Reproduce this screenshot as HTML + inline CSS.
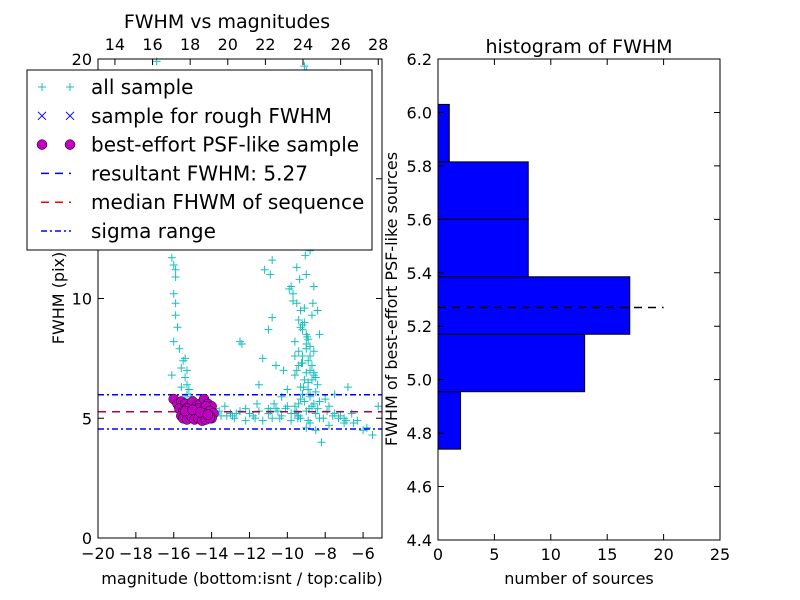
<!DOCTYPE html>
<html><head><meta charset="utf-8"><style>
body{margin:0;background:#fff;}
svg{display:block;font-family:"DejaVu Sans","Liberation Sans",sans-serif;}
</style></head><body>
<svg id="c" width="800" height="600"></svg>
<script>
const allMag=[-16.9,-16.1,-16,-15.9,-15.9,-16,-15.9,-15.9,-15.8,-16,-15.7,-15.5,-15.4,-15.6,-15.3,-16.1,-15.4,-15.3,-15.2,-15.6,-15.3,-15.1,-15.4,-12.5,-12.4,-11.2,-10.9,-10.8,-11,-10.5,-10.2,-9.7,-9.5,-9.9,-9.7,-9.8,-9.5,-9.3,-9.1,-9.3,-9,-8.8,-9.6,-9.4,-9.2,-8.9,-8.7,-9.5,-9,-8.6,-8.9,-9.3,-8.5,-8.8,-9.1,-9.6,-8.4,-8,-7.8,-7.5,-7,-6.5,-6,-5.5,-5.2,-6.8,-7.5,-7,-8.2,-10.8,-11,-11.3,-10.6,-11.5,-10.2,-10,-10.3,-10.7,-11,-11.5,-12,-12.5,-13,-13.5,-13.8,-13.3,-12.8,-12.2,-11.8,-11.3,-10.8,-10.3,-9.8,-9.3,-8.8,-8.3,-7.8,-9,-8.5,-9.9,-9.5,-9.2,-9.8,-9.4,-9.1,-8.9,-9.3,-8.8,-9,-8.6,-8.4,-8.3,-8.6,-10.5,-10.8,-11.3,-8.7,-9.1,-9,-9.4,-8.9,-9.2,-8.7,-9.6,-8.5,-9.7,-9.2,-8.8,-9.4,-9.0,-14.5,-14,-13.2,-12.7,-11.7,-10.9,-10.1,-9.6,-9.4,-8.1,-7.2,-6.3,-5.8,
-9.2,-9.0,-8.8,-9.4,-8.6,-9.1,-8.9,-9.3,-8.7,-9.5,-8.5,-9.0,-8.8,-9.2,-8.6,-9.4,-8.9,-9.1,-8.7,-8.4,-9.6,-8.3,-9.8,-10.0,-10.4,-10.6,-7.9,-7.6,-7.3,-6.9,-6.6,-9.35,-9.05,-8.75,-9.25,-8.95,-8.65,-9.15,-8.85,-9.45,-12.2,-11.6,-11.0,-10.5,-13.6,-14.2,-12.9];
const allFwhm=[19.9,11.7,11.4,11.2,10.9,10.2,9.8,9.3,8.8,8.2,7.9,7.4,7.5,7.1,7,6.8,6.7,6.4,6.2,6.3,6,5.9,5.8,8.2,8.1,11.2,11,11.6,12.4,12.7,12.9,12.5,11.3,10.4,10.2,10.5,9.8,9.5,9,8.8,8.5,8,8.2,7.8,7.6,7.4,7.2,7,6.9,6.8,6.5,6.3,6.1,5.9,5.7,5.5,5.4,5.8,5.5,5.2,5,4.8,4.5,4.3,5.5,6.3,6,4.8,4,9.2,8.7,7.5,7.2,6.4,7,6.2,5.9,5.6,5.4,5.3,5.2,5.3,5.2,5.1,5.4,5.5,5,4.9,5.1,4.9,5,5.1,4.9,5,4.8,5,4.7,4.6,4.5,14.5,15.5,16.2,17,18,19,14,13.5,12,11,10.5,9.5,8.5,7.8,16.5,14.8,13.7,13.2,19.7,19.5,9.1,8.3,7.3,6.6,7.6,6.7,9.9,8.9,6.0,5.6,5.3,5.2,5.3,5.1,5.2,5.0,5.3,5.4,5.2,5.1,5.0,5.1,4.9,4.6,
8.7,8.1,7.6,7.2,6.9,6.6,6.2,5.8,5.5,5.3,5.2,7.9,7.0,6.0,5.6,5.1,4.9,9.6,9.3,6.4,6.8,5.7,5.2,5.5,5.0,5.4,5.3,5.1,5.0,4.9,5.2,10.8,11.8,12.3,7.3,8.4,9.8,6.3,5.4,5.0,5.4,5.6,5.2,5.3,5.3,5.0,5.1];
const bestMag=[-16,-15.8,-15.6,-15.4,-15.2,-15,-14.8,-14.6,-14.4,-14.2,-14,-15.7,-15.5,-15.3,-15.1,-14.9,-14.7,-14.5,-14.3,-14.1,-13.9,-15.6,-15.4,-15.2,-15,-14.8,-14.6,-14.4,-14.2,-14,-15.5,-15.3,-15.1,-14.9,-14.7,-14.5,-14.3,-14.1,-15.4,-15.0,-14.6,-14.2];
const bestFwhm=[5.8,5.6,5.7,5.6,5.5,5.7,5.5,5.6,5.8,5.6,5.5,5.4,5.3,5.4,5.2,5.3,5.4,5.2,5.5,5.3,5.2,5.1,5.2,5.0,5.1,5.2,5.0,5.2,5.1,5.0,5.0,4.95,5.1,4.95,5.0,4.9,4.95,5.0,5.3,5.35,5.25,5.15];
const resultFwhm=5.27, sigLo=4.55, sigHi=5.98;
const binEdges=[4.74,4.955,5.17,5.385,5.6,5.815,6.03];
const binCounts=[2,13,17,8,8,1];
const xTicksL=[-20,-18,-16,-14,-12,-10,-8,-6];
const yTicksL=[0,5,10,15,20];
const topTicks=[14,16,18,20,22,24,26,28];
const xTicksR=[0,5,10,15,20,25];
const yTicksR=[4.4,4.6,4.8,5.0,5.2,5.4,5.6,5.8,6.0,6.2];

const S=document.getElementById('c'),NS='http://www.w3.org/2000/svg';
function el(t,a,p){const e=document.createElementNS(NS,t);for(const k in a)e.setAttribute(k,a[k]);(p||S).appendChild(e);return e;}
const L={x0:98,x1:382,y0:59,y1:538};
const xl=v=>L.x0+(v+20)/15*(L.x1-L.x0), yl=v=>L.y1-v/20*(L.y1-L.y0), xt=v=>L.x0+(v-13.1)/15.1*(L.x1-L.x0);
const R={x0:438,x1:720,y0:59,y1:540};
const xr=v=>R.x0+v/25*(R.x1-R.x0), yr=v=>R.y1-(v-4.4)/1.8*(R.y1-R.y0);
function txt(x,y,s,o,p){const t=el('text',Object.assign({x:x,y:y,'font-size':16,'text-anchor':'middle'},o||{}),p);t.textContent=s;return t;}
const gl=el('g',{});
el('rect',{x:L.x0,y:L.y0,width:L.x1-L.x0,height:L.y1-L.y0,fill:'#fff'},gl);
const gp=el('g',{},gl);
allMag.forEach((m,i)=>{const x=xl(m),y=yl(allFwhm[i]);el('path',{d:`M${x-4} ${y}h8M${x} ${y-4}v8`,stroke:'#17bfbf','stroke-width':1},gp);});
el('line',{x1:L.x0,x2:L.x1,y1:yl(resultFwhm),y2:yl(resultFwhm),stroke:'#0000ff','stroke-width':1.5,'stroke-dasharray':'8 6'},gl);
el('line',{x1:L.x0,x2:L.x1,y1:yl(resultFwhm),y2:yl(resultFwhm),stroke:'#ff0000','stroke-width':1.5,'stroke-dasharray':'8 6',opacity:0.7},gl);
[sigLo,sigHi].forEach(v=>{const l=el('line',{x1:L.x0,x2:L.x1,y1:yl(v),y2:yl(v),stroke:'#0000ff','stroke-width':1.5,'stroke-dasharray':'6 3 2 3'},gl);});
const gb=el('g',{},gl);
bestMag.forEach((m,i)=>el('circle',{cx:xl(m),cy:yl(bestFwhm[i]),r:5,fill:'#bf00bf',stroke:'#000','stroke-width':0.5},gb));
el('rect',{x:L.x0,y:L.y0,width:L.x1-L.x0,height:L.y1-L.y0,fill:'none',stroke:'#000'},gl);
xTicksL.forEach(v=>{const x=xl(v);el('path',{d:`M${x} ${L.y1}v-6`,stroke:'#000'},gl);txt(x,L.y1+21,v<0?'\u2212'+(-v):v,{},gl);});
yTicksL.forEach(v=>{const y=yl(v);el('path',{d:`M${L.x0} ${y}h6M${L.x1} ${y}h-6`,stroke:'#000'},gl);txt(L.x0-6,y+6,v,{'text-anchor':'end'},gl);});
topTicks.forEach(v=>{const x=xt(v);el('path',{d:`M${x} ${L.y0}v6`,stroke:'#000'},gl);txt(x,L.y0-9,v,{},gl);});
txt(242,584,'magnitude (bottom:isnt / top:calib)');
txt(227,28,'FWHM vs magnitudes',{'font-size':19});
txt(64,298,'FWHM (pix)',{transform:'rotate(-90 64 298)'});
const lg=el('g',{});
el('rect',{x:27,y:70,width:345,height:180,fill:'#fff',stroke:'#000'},lg);
const items=['all sample','sample for rough FWHM','best-effort PSF-like sample','resultant FWHM: 5.27','median FHWM of sequence','sigma range'];
items.forEach((s,i)=>{const y=87+i*28.8;const g=el('g',{},lg);
 if(i==0)[42,70].forEach(x=>el('path',{d:`M${x-4} ${y}h8M${x} ${y-4}v8`,stroke:'#17bfbf'},g));
 if(i==1)[42,70].forEach(x=>el('path',{d:`M${x-4} ${y-4}l8 8M${x+4} ${y-4}l-8 8`,stroke:'#0000ff'},g));
 if(i==2)[42,70].forEach(x=>el('circle',{cx:x,cy:y,r:5,fill:'#bf00bf',stroke:'#000','stroke-width':0.5},g));
 if(i==3||i==4)el('line',{x1:41,x2:71,y1:y,y2:y,stroke:i==3?'#0000ff':'#ff0000','stroke-width':1.5,'stroke-dasharray':'8 6'},g);
 if(i==5)el('line',{x1:41,x2:71,y1:y,y2:y,stroke:'#0000ff','stroke-width':1.5,'stroke-dasharray':'6 3 2 3'},g);
 txt(91,y+7,s,{'text-anchor':'start','font-size':20},g);});
const gr=el('g',{});
binCounts.forEach((c,i)=>{const r=el('rect',{x:xr(0),y:yr(binEdges[i+1]),width:xr(c)-xr(0),height:yr(binEdges[i])-yr(binEdges[i+1]),fill:'#0000ff',stroke:'#000'},gr);});
el('line',{x1:xr(0),x2:xr(20),y1:yr(resultFwhm),y2:yr(resultFwhm),stroke:'#000','stroke-width':1.5,'stroke-dasharray':'8 6'},gr);
el('rect',{x:R.x0,y:R.y0,width:R.x1-R.x0,height:R.y1-R.y0,fill:'none',stroke:'#000'},gr);
xTicksR.forEach(v=>{const x=xr(v);el('path',{d:`M${x} ${R.y1}v-6M${x} ${R.y0}v6`,stroke:'#000'},gr);txt(x,R.y1+20,v,{},gr);});
yTicksR.forEach(v=>{const y=yr(v);el('path',{d:`M${R.x0} ${y}h6M${R.x1} ${y}h-6`,stroke:'#000'},gr);txt(R.x0-6,y+6,v.toFixed(1),{'text-anchor':'end'},gr);});
txt(579,584,'number of sources');
txt(579,53,'histogram of FWHM',{'font-size':19});
txt(397,299,'FWHM of best-effort PSF-like sources',{transform:'rotate(-90 397 299)'});
</script>
</body></html>
